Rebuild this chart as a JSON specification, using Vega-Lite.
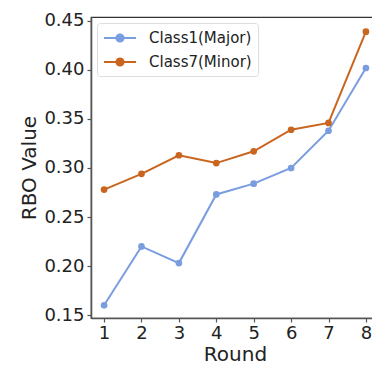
{
  "$schema": "https://vega.github.io/schema/vega-lite/v6.json",
  "autosize": {"type": "none"},
  "padding": {"left": 91, "top": 17, "right": 0, "bottom": 50},
  "width": 288,
  "height": 301,
  "config": {
    "font": "DejaVu Sans",
    "view": {"stroke": "#333", "strokeWidth": 1.2},
    "axis": {
      "grid": false,
      "domainColor": "#555",
      "domainWidth": 1.6,
      "tickColor": "#555",
      "tickSize": 4,
      "tickWidth": 1.2,
      "labelFont": "DejaVu Sans",
      "labelFontSize": 18,
      "labelColor": "#222",
      "titleFont": "DejaVu Sans",
      "titleFontSize": 20,
      "titleFontWeight": "normal",
      "titleColor": "#222"
    }
  },
  "data": {
    "values": [
      {"round": 1, "value": 0.160, "series": "Class1(Major)"},
      {"round": 2, "value": 0.220, "series": "Class1(Major)"},
      {"round": 3, "value": 0.203, "series": "Class1(Major)"},
      {"round": 4, "value": 0.273, "series": "Class1(Major)"},
      {"round": 5, "value": 0.284, "series": "Class1(Major)"},
      {"round": 6, "value": 0.300, "series": "Class1(Major)"},
      {"round": 7, "value": 0.338, "series": "Class1(Major)"},
      {"round": 8, "value": 0.402, "series": "Class1(Major)"},
      {"round": 1, "value": 0.278, "series": "Class7(Minor)"},
      {"round": 2, "value": 0.294, "series": "Class7(Minor)"},
      {"round": 3, "value": 0.313, "series": "Class7(Minor)"},
      {"round": 4, "value": 0.305, "series": "Class7(Minor)"},
      {"round": 5, "value": 0.317, "series": "Class7(Minor)"},
      {"round": 6, "value": 0.339, "series": "Class7(Minor)"},
      {"round": 7, "value": 0.346, "series": "Class7(Minor)"},
      {"round": 8, "value": 0.439, "series": "Class7(Minor)"}
    ]
  },
  "mark": {"type": "line", "strokeWidth": 2, "point": {"size": 45, "filled": true, "opacity": 1}},
  "encoding": {
    "x": {
      "field": "round",
      "type": "quantitative",
      "scale": {"domain": [0.65, 8.35], "nice": false, "zero": false},
      "axis": {"values": [1, 2, 3, 4, 5, 6, 7, 8], "format": "d", "title": "Round", "labelPadding": 2, "titlePadding": 2, "labelFlush": false}
    },
    "y": {
      "field": "value",
      "type": "quantitative",
      "scale": {"domain": [0.147, 0.454], "nice": false, "zero": false},
      "axis": {"values": [0.15, 0.2, 0.25, 0.3, 0.35, 0.4, 0.45], "format": ".2f", "title": "RBO Value", "labelPadding": 3, "titlePadding": 4}
    },
    "color": {
      "field": "series",
      "type": "nominal",
      "scale": {"domain": ["Class1(Major)", "Class7(Minor)"], "range": ["#7a9de0", "#c9651f"]},
      "legend": {
        "title": null,
        "orient": "top-left",
        "offset": 6,
        "padding": 6,
        "fillColor": "white",
        "strokeColor": "#ddd",
        "cornerRadius": 3,
        "labelFont": "DejaVu Sans",
        "labelFontSize": 15,
        "labelColor": "#222",
        "symbolType": "M-1,0H3M0.55,0A0.45,0.45 0 1,0 1.45,0A0.45,0.45 0 1,0 0.55,0",
        "symbolSize": 256,
        "symbolStrokeWidth": 2,
        "labelOffset": 28,
        "rowPadding": 7,
        "encode": {"symbols": {"update": {"fill": {"scale": "color", "field": "value"}, "fillOpacity": {"value": 1}}}}
      }
    }
  }
}
